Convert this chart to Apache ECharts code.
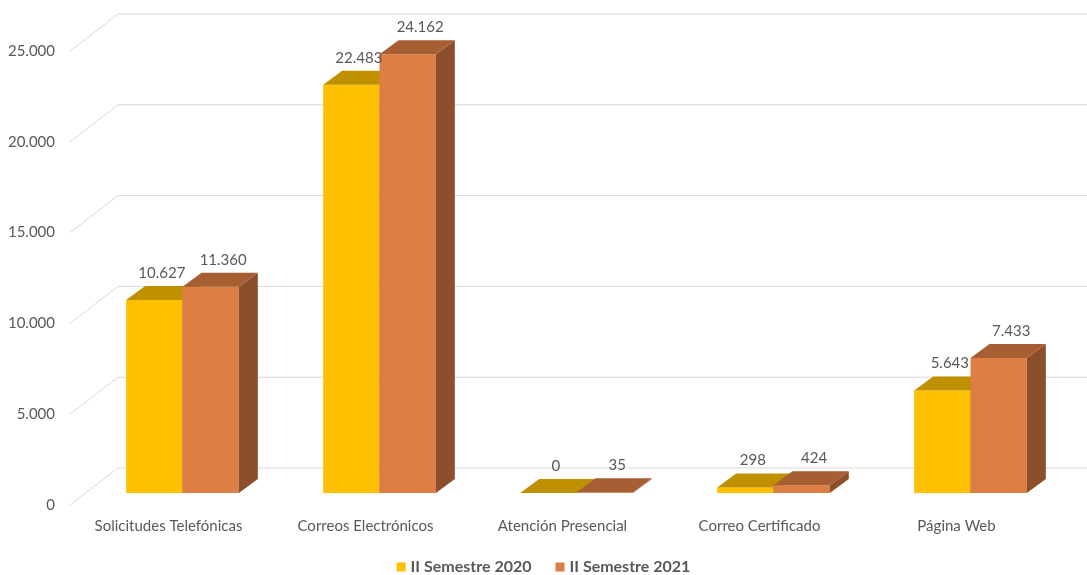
<!DOCTYPE html>
<html>
<head>
<meta charset="utf-8">
<style>
  html, body { margin: 0; padding: 0; background: #ffffff; }
  #chart { width: 1087px; height: 575px; }
</style>
<script src="https://cdn.jsdelivr.net/npm/echarts@6/dist/echarts.min.js"></script>
</head>
<body>
<div id="chart"></div>
<script>
// Channels of attention and the requests received in each half-year
const categories = ['Solicitudes Telefónicas', 'Correos Electrónicos', 'Atención Presencial', 'Correo Certificado', 'Página Web'];
const seriesNames = ['II Semestre 2020', 'II Semestre 2021'];
const sem2020 = [10627, 22483, 0, 298, 5643];
const sem2021 = [11360, 24162, 35, 424, 7433];
const yTicks = [0, 5000, 10000, 15000, 20000, 25000];

// Oblique projection used for the 3D look (pixels)
const WALL_DX = 48, WALL_DY = -37;   // floor depth: front plane -> back wall
const BAR_FX = 14, BAR_FY = -12;     // front face of the bars, measured from the front plane
const BAR_DX = 19, BAR_DY = -14;     // bar depth
const BAR_RATIO = 0.286;             // single bar width as a share of the category band
const FONT = 'Lato, "Liberation Sans", sans-serif';
const TEXT = '#595959';

const palette = [
  { front: '#FFC000', top: '#BF9000', side: '#A77E00' },
  { front: '#DD7E45', top: '#A65E32', side: '#8C4F2B' }
];

function fmt(v) {
  return String(v).replace(/\B(?=(\d{3})+(?!\d))/g, '.');
}

// Geometry of one bar's front face, from the axes
function barBox(api, seriesIdx, idx, val) {
  const base = api.coord([idx, 0]);
  const topPt = api.coord([idx, val]);
  const bandW = api.size([1, 0])[0];
  const w = bandW * BAR_RATIO;
  const xl = (seriesIdx === 0 ? base[0] - w : base[0]) + BAR_FX;
  return { xl: xl, xr: xl + w, w: w, yb: base[1] + BAR_FY, yt: topPt[1] + BAR_FY };
}

function wallRender(params, api) {
  const cs = params.coordSys;
  const v = api.value(0);
  const y = api.coord([0, v])[1];
  const x0 = cs.x;
  const x1 = cs.x + cs.width + WALL_DX + 20;
  return {
    type: 'polyline',
    shape: { points: [[x0, y], [x0 + WALL_DX, y + WALL_DY], [x1, y + WALL_DY]] },
    style: { stroke: '#D9D9D9', lineWidth: 1, fill: null },
    silent: true
  };
}

function barRender(seriesIdx) {
  const c = palette[seriesIdx];
  return function (params, api) {
    const b = barBox(api, seriesIdx, api.value(0), api.value(1));
    return {
      type: 'group',
      children: [
        {
          type: 'rect',
          shape: { x: b.xl, y: b.yt, width: b.w, height: Math.max(0, b.yb - b.yt) },
          style: { fill: c.front }
        },
        {
          type: 'polygon',
          shape: { points: [[b.xr, b.yt], [b.xr + BAR_DX, b.yt + BAR_DY], [b.xr + BAR_DX, b.yb + BAR_DY], [b.xr, b.yb]] },
          style: { fill: c.side }
        },
        {
          type: 'polygon',
          shape: { points: [[b.xl, b.yt], [b.xr, b.yt], [b.xr + BAR_DX, b.yt + BAR_DY], [b.xl + BAR_DX, b.yt + BAR_DY]] },
          style: { fill: c.top }
        }
      ]
    };
  };
}

// Value labels, drawn above both bar series
function labelRender(params, api) {
  const s = api.value(0), idx = api.value(1), val = api.value(2);
  const b = barBox(api, s, idx, val);
  return {
    type: 'text',
    style: {
      text: fmt(val),
      x: b.xl + b.w / 2 + BAR_DX / 2 + (s === 0 ? -2 : 3),
      y: b.yt + BAR_DY / 2 - 20,
      align: 'center',
      verticalAlign: 'middle',
      fill: TEXT,
      font: '15px ' + FONT
    },
    silent: true
  };
}

const labelData = [];
sem2020.forEach((v, i) => labelData.push([0, i, v]));
sem2021.forEach((v, i) => labelData.push([1, i, v]));

const chart = echarts.init(document.getElementById('chart'), null, { renderer: 'canvas' });

chart.setOption({
  backgroundColor: '#ffffff',
  animation: false,
  textStyle: { fontFamily: FONT, color: TEXT },
  grid: { left: 70, right: 32, top: 51, bottom: 70, containLabel: false },
  legend: {
    data: seriesNames,
    left: 'center',
    top: 559,
    padding: 0,
    icon: 'rect',
    itemWidth: 9,
    itemHeight: 9,
    itemGap: 24,
    textStyle: { fontFamily: FONT, fontSize: 16, fontWeight: 'bold', color: TEXT }
  },
  xAxis: {
    type: 'category',
    data: categories,
    axisLine: { show: false },
    axisTick: { show: false },
    splitLine: { show: false },
    axisLabel: { color: TEXT, fontSize: 15, fontFamily: FONT, margin: 14, interval: 0 }
  },
  yAxis: {
    type: 'value',
    min: 0,
    max: 25000,
    interval: 5000,
    axisLine: { show: false },
    axisTick: { show: false },
    splitLine: { show: false },
    axisLabel: { color: TEXT, fontSize: 15, fontFamily: FONT, margin: 15, formatter: fmt }
  },
  series: [
    {
      type: 'custom',
      name: 'wall',
      renderItem: wallRender,
      data: yTicks.map(v => [v]),
      encode: { y: 0 },
      silent: true,
      clip: false,
      z: 1
    },
    {
      type: 'custom',
      name: seriesNames[0],
      renderItem: barRender(0),
      itemStyle: { color: palette[0].front },
      data: sem2020.map((v, i) => [i, v]),
      encode: { x: 0, y: 1 },
      clip: false,
      z: 2
    },
    {
      type: 'custom',
      name: seriesNames[1],
      renderItem: barRender(1),
      itemStyle: { color: palette[1].front },
      data: sem2021.map((v, i) => [i, v]),
      encode: { x: 0, y: 1 },
      clip: false,
      z: 3
    },
    {
      type: 'custom',
      name: 'labels',
      renderItem: labelRender,
      data: labelData,
      encode: { x: 1, y: 2 },
      silent: true,
      clip: false,
      z: 4
    }
  ]
});
</script>
</body>
</html>
